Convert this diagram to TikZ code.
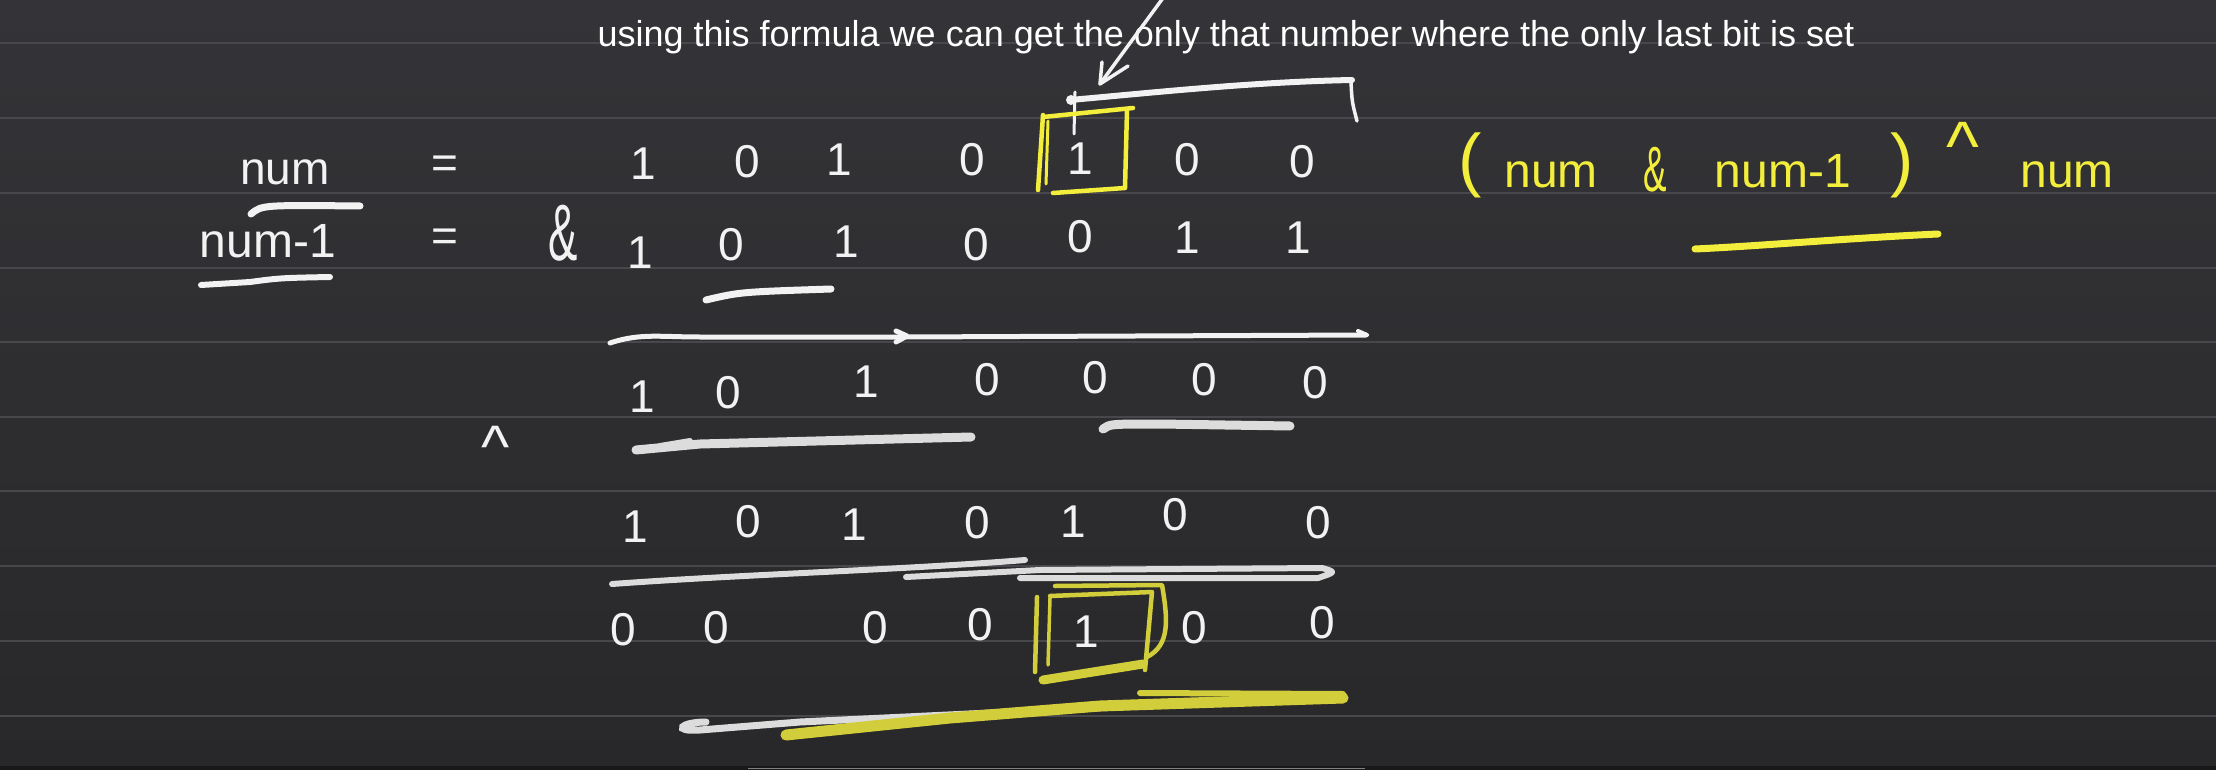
\documentclass[tikz,border=0pt]{standalone}
\usepackage{fontspec}
\setmainfont{Liberation Sans}
\usetikzlibrary{arrows.meta}
\definecolor{bgtop}{HTML}{343337}
\definecolor{bgbot}{HTML}{28282A}
\definecolor{rulecol}{HTML}{48484C}
\definecolor{chalk}{HTML}{F2F2F2}
\definecolor{chalkgray}{HTML}{DCDCDC}
\definecolor{hl}{HTML}{F3EE3C}
\definecolor{hlmuted}{HTML}{D2CD3A}
\begin{document}
\begin{tikzpicture}[x=1pt,y=-1pt,
  hw/.style={text=chalk, font=\fontsize{46}{52}\selectfont, inner sep=0pt, anchor=base},
  hy/.style={text=hl, font=\fontsize{48}{54}\selectfont, inner sep=0pt},
  pen/.style={draw=chalk, line width=4.5pt, line cap=round, line join=round},
  brush/.style={draw=chalkgray, line width=9pt, line cap=round, line join=round},
  ypen/.style={draw=hl, line width=4.5pt, line cap=round, line join=round},
  mpen/.style={draw=hlmuted, line width=4.5pt, line cap=round, line join=round}]
\shade[top color=bgtop, bottom color=bgbot] (0,0) rectangle (2216,770);
\useasboundingbox (0,0) rectangle (2216,770);
\foreach \yy in {43,118,193,268,342,417,491,566,641,716}
  \draw[rulecol, line width=2pt] (0,\yy) -- (2216,\yy);
\fill[black!90] (0,766) rectangle (2216,770);
\draw[gray, line width=1pt] (748,768) -- (1365,768);

% caption
\node[text=white, font=\fontsize{36}{42}\selectfont, inner sep=0pt] (cap) at (1226,37)
  {using this formula we can get the only that number where the only last bit is set};

% row labels
\node[hw, font=\fontsize{46}{52}\selectfont] (lnum) at (285,185) {num};
\node[hw, font=\fontsize{48}{54}\selectfont] (lnum1) at (268,257) {num-1};
\node[hw, anchor=center] (eq1) at (445,167) {=};
\node[hw, anchor=center] (eq2) at (445,240) {=};
\node[hw, anchor=center, font=\fontsize{80}{90}\selectfont] (amp) at (563,233) {\scalebox{0.55}[1]{\&}};
\node[hw, anchor=center, font=\fontsize{60}{66}\selectfont] (xorop) at (496,447) {\textasciicircum};

% digit rows
\foreach \x/\b/\d [count=\i] in {643/180/1,747/178/0,839/176/1,972/176/0,1080/175/1,1187/176/0,1302/178/0}
  \node[hw] (a\i) at (\x,\b) {\d};
\foreach \x/\b/\d [count=\i] in {640/268/1,731/260/0,846/257/1,976/260/0,1080/252/0,1187/253/1,1298/253/1}
  \node[hw] (b\i) at (\x,\b) {\d};
\foreach \x/\b/\d [count=\i] in {642/412/1,728/408/0,866/397/1,987/395/0,1095/393/0,1204/395/0,1315/398/0}
  \node[hw] (c\i) at (\x,\b) {\d};
\foreach \x/\b/\d [count=\i] in {635/542/1,748/537/0,854/540/1,977/538/0,1073/537/1,1175/530/0,1318/538/0}
  \node[hw] (d\i) at (\x,\b) {\d};
\foreach \x/\b/\d [count=\i] in {623/645/0,716/643/0,875/643/0,980/640/0,1086/647/1,1194/643/0,1322/638/0}
  \node[hw] (e\i) at (\x,\b) {\d};

% arrow pointing to the set bit
\coordinate (arrtop) at (1163,-2);
\coordinate (arrtip) at (1100,84);
\draw[pen, line width=3.5pt] (arrtop) -- (arrtip);
\draw[pen, line width=3.5pt] (1102,62) -- (arrtip) -- (1128,66);
% bracket over the last bits
\draw[pen, line width=6pt] (1070,100) .. controls (1150,93) and (1250,82) .. (1352,80);
\draw[pen, line width=3.5pt] (1351,82) .. controls (1352,102) .. (1357,121);
\draw[pen, line width=3pt] (1075,92) -- (1074,134);
\fill[chalk] (1071,100) circle (5);

% yellow box row 1
\draw[ypen] (1043,117) -- (1133,108);
\draw[ypen] (1043,115) -- (1038,190);
\draw[ypen, line width=3pt] (1048,121) -- (1046,184);
\draw[ypen] (1127,110) -- (1125,188) -- (1053,193);

% labels underlines
\draw[pen, line width=7pt] (251,214) .. controls (262,205) .. (360,206);
\draw[pen, line width=6pt] (201,285) -- (250,282) .. controls (280,278) .. (330,277);
\draw[pen, line width=7pt] (706,300) .. controls (740,292) .. (831,289);

% AND result line
\draw[pen, line width=5pt] (610,343) .. controls (640,333) and (660,337) .. (700,337) -- (904,337) -- (1366,335);
\draw[pen, line width=5pt] (896,331) -- (907,336) -- (896,342);
\draw[pen, line width=4pt] (1358,331) -- (1367,335);

% row 3 underlines
\draw[brush] (636,450) -- (700,444) -- (971,437);
\draw[brush, line width=6pt] (660,446) -- (690,441);
\draw[brush] (1103,429) .. controls (1110,424) .. (1160,424) -- (1290,426);

% row 4 underline
\draw[brush, line width=6pt] (612,584) .. controls (750,574) and (900,570) .. (1025,560);
\draw[brush, line width=6pt] (906,577) -- (1040,570) -- (1322,568) .. controls (1336,572) .. (1318,578) -- (1020,578);

% yellow box row 5
\draw[mpen] (1055,586) -- (1162,585) .. controls (1168,620) and (1170,645) .. (1147,657);
\draw[mpen] (1050,596) -- (1152,592) -- (1145,670);
\draw[mpen] (1037,597) -- (1035,672);
\draw[mpen, line width=3.5pt] (1050,598) -- (1048,665);
\draw[mpen, line width=9pt] (1043,680) -- (1143,664);

% bottom underline
\draw[draw=chalkgray, line width=7pt, line cap=round] (706,722) .. controls (680,722) and (672,732) .. (700,730) -- (800,722) -- (1265,700);
\draw[draw=hlmuted, line width=11pt, line cap=round] (786,735) -- (950,718) -- (1100,706) -- (1343,698);
\draw[draw=hlmuted, line width=6pt, line cap=round] (1140,693) -- (1343,694);

% formula
\node[hy, font=\fontsize{70}{76}\selectfont] (lp) at (1470,165) {(};
\node[hy, anchor=base] (f1) at (1551,188) {num};
\node[hy, font=\fontsize{64}{70}\selectfont] (famp) at (1655,170) {\scalebox{0.55}[1]{\&}};
\node[hy, anchor=base] (f2) at (1783,188) {num-1};
\node[hy, font=\fontsize{70}{76}\selectfont] (rp) at (1902,165) {)};
\node[hy, font=\fontsize{70}{76}\selectfont] (fx) at (1963,146) {\textasciicircum};
\node[hy, anchor=base] (f3) at (2067,188) {num};
\draw[ypen, line width=7pt] (1695,249) .. controls (1760,246) and (1850,238) .. (1938,234);
\end{tikzpicture}
\end{document}
